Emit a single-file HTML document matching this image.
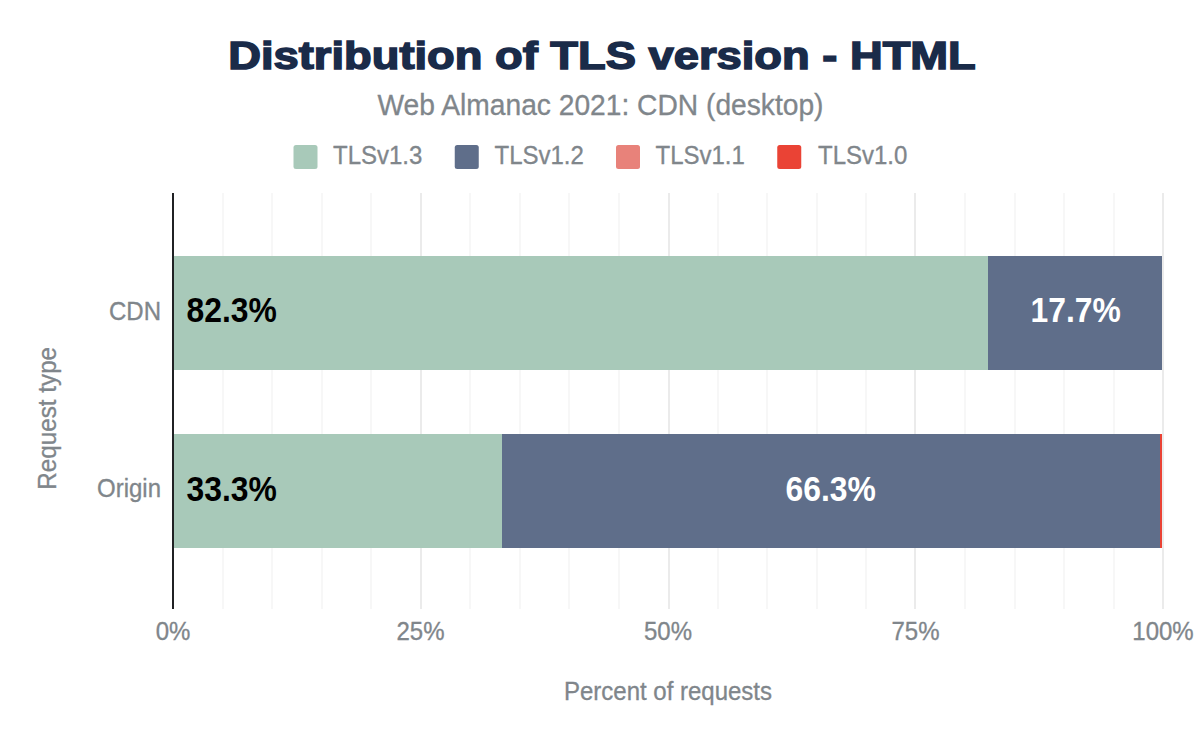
<!DOCTYPE html>
<html>
<head>
<meta charset="utf-8">
<title>Distribution of TLS version - HTML</title>
<style>
html,body{margin:0;padding:0;background:#fff;}
body{width:1200px;height:742px;overflow:hidden;}
svg{display:block;}
text{font-family:"Liberation Sans",sans-serif;}
</style>
</head>
<body>
<svg width="1200" height="742" viewBox="0 0 1200 742">
  <rect x="0" y="0" width="1200" height="742" fill="#ffffff"/>
  <text transform="translate(602 68.6) scale(1.162 1)" text-anchor="middle" font-size="39" font-weight="bold" fill="#1a2b49" stroke="#1a2b49" stroke-width="1.5">Distribution of TLS version - HTML</text>
  <text transform="translate(600.5 115) scale(1 1.02)" font-size="28.2" text-anchor="middle" fill="#80868b" stroke="#80868b" stroke-width="0.3">Web Almanac 2021: CDN (desktop)</text>
  <rect x="293.5" y="145" width="24" height="24" rx="2.5" fill="#a8c9b9"/>
  <text transform="translate(333 164) scale(1 1.04)" font-size="24" text-anchor="start" fill="#80868b" stroke="#80868b" stroke-width="0.3">TLSv1.3</text>
  <rect x="454.75" y="145" width="24" height="24" rx="2.5" fill="#5f6e8a"/>
  <text transform="translate(494.5 164) scale(1 1.04)" font-size="24" text-anchor="start" fill="#80868b" stroke="#80868b" stroke-width="0.3">TLSv1.2</text>
  <rect x="616" y="145" width="24" height="24" rx="2.5" fill="#e8827a"/>
  <text transform="translate(655.5 164) scale(1 1.04)" font-size="24" text-anchor="start" fill="#80868b" stroke="#80868b" stroke-width="0.3">TLSv1.1</text>
  <rect x="777.25" y="145" width="24" height="24" rx="2.5" fill="#ea4335"/>
  <text transform="translate(818 164) scale(1 1.04)" font-size="24" text-anchor="start" fill="#80868b" stroke="#80868b" stroke-width="0.3">TLSv1.0</text>
  <rect x="222" y="193" width="2" height="416" fill="#f7f7f7"/>
  <rect x="271" y="193" width="2" height="416" fill="#f7f7f7"/>
  <rect x="321" y="193" width="2" height="416" fill="#f7f7f7"/>
  <rect x="370" y="193" width="2" height="416" fill="#f7f7f7"/>
  <rect x="420" y="193" width="2" height="416" fill="#ebebeb"/>
  <rect x="469" y="193" width="2" height="416" fill="#f7f7f7"/>
  <rect x="519" y="193" width="2" height="416" fill="#f7f7f7"/>
  <rect x="568" y="193" width="2" height="416" fill="#f7f7f7"/>
  <rect x="618" y="193" width="2" height="416" fill="#f7f7f7"/>
  <rect x="668" y="193" width="2" height="416" fill="#ebebeb"/>
  <rect x="717" y="193" width="2" height="416" fill="#f7f7f7"/>
  <rect x="766" y="193" width="2" height="416" fill="#f7f7f7"/>
  <rect x="816" y="193" width="2" height="416" fill="#f7f7f7"/>
  <rect x="865" y="193" width="2" height="416" fill="#f7f7f7"/>
  <rect x="914" y="193" width="2" height="416" fill="#ebebeb"/>
  <rect x="964" y="193" width="2" height="416" fill="#f7f7f7"/>
  <rect x="1014" y="193" width="2" height="416" fill="#f7f7f7"/>
  <rect x="1063" y="193" width="2" height="416" fill="#f7f7f7"/>
  <rect x="1113" y="193" width="2" height="416" fill="#f7f7f7"/>
  <rect x="1162" y="193" width="2" height="416" fill="#ebebeb"/>
  <rect x="173" y="256" width="815" height="114" fill="#a8c9b9"/>
  <rect x="988" y="256" width="174" height="114" fill="#5f6e8a"/>
  <rect x="173" y="434" width="329" height="114" fill="#a8c9b9"/>
  <rect x="502" y="434" width="658" height="114" fill="#5f6e8a"/>
  <rect x="1160" y="434" width="2" height="114" fill="#ea4335"/>
  <rect x="172" y="193" width="2" height="416" fill="#202124"/>
  <text transform="translate(186.5 322.3) scale(0.91 1)" font-size="35" font-weight="bold" text-anchor="start" fill="#000">82.3%</text>
  <text transform="translate(1075.7 322.3) scale(0.91 1)" font-size="35" font-weight="bold" text-anchor="middle" fill="#fff">17.7%</text>
  <text transform="translate(186.5 500.6) scale(0.91 1)" font-size="35" font-weight="bold" text-anchor="start" fill="#000">33.3%</text>
  <text transform="translate(830.7 500.6) scale(0.91 1)" font-size="35" font-weight="bold" text-anchor="middle" fill="#fff">66.3%</text>
  <text transform="translate(161 320) scale(1 1.04)" font-size="24" text-anchor="end" fill="#80868b" stroke="#80868b" stroke-width="0.3">CDN</text>
  <text transform="translate(161 496.6) scale(1 1.04)" font-size="24" text-anchor="end" fill="#80868b" stroke="#80868b" stroke-width="0.3">Origin</text>
  <text transform="translate(173 640) scale(1 1.04)" font-size="24" text-anchor="middle" fill="#80868b" stroke="#80868b" stroke-width="0.3">0%</text>
  <text transform="translate(420.5 640) scale(1 1.04)" font-size="24" text-anchor="middle" fill="#80868b" stroke="#80868b" stroke-width="0.3">25%</text>
  <text transform="translate(668 640) scale(1 1.04)" font-size="24" text-anchor="middle" fill="#80868b" stroke="#80868b" stroke-width="0.3">50%</text>
  <text transform="translate(915.5 640) scale(1 1.04)" font-size="24" text-anchor="middle" fill="#80868b" stroke="#80868b" stroke-width="0.3">75%</text>
  <text transform="translate(1163 640) scale(1 1.04)" font-size="24" text-anchor="middle" fill="#80868b" stroke="#80868b" stroke-width="0.3">100%</text>
  <text transform="translate(668 700) scale(1 1.04)" font-size="24" text-anchor="middle" fill="#80868b" stroke="#80868b" stroke-width="0.3">Percent of requests</text>
  <text transform="translate(56.2 418.3) rotate(-90) scale(1.01 1.04)" font-size="24" text-anchor="middle" fill="#80868b" stroke="#80868b" stroke-width="0.3">Request type</text>
</svg>
</body>
</html>
